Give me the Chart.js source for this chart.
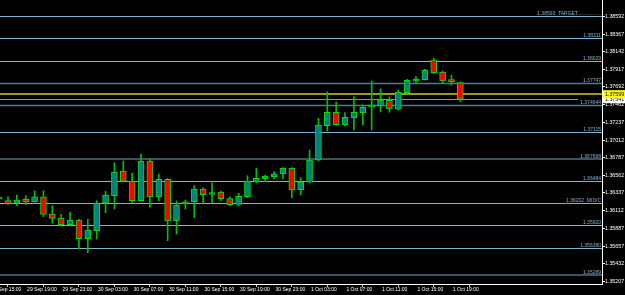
<!DOCTYPE html>
<html><head><meta charset="utf-8">
<script src="https://cdn.jsdelivr.net/npm/chart.js@4.4.1/dist/chart.umd.min.js"></script>
<style>
html,body{margin:0;padding:0;background:#000;overflow:hidden;}
#wrap{position:relative;width:625px;height:295px;background:#000;}
</style></head><body>
<div id="wrap"><canvas id="c"></canvas></div>
<script>
// ---- DATA ----
const candleTimes = [
 "29 Sep 16:00","29 Sep 17:00","29 Sep 18:00","29 Sep 19:00","29 Sep 20:00","29 Sep 21:00","29 Sep 22:00","29 Sep 23:00",
 "30 Sep 00:00","30 Sep 01:00","30 Sep 02:00","30 Sep 03:00","30 Sep 04:00","30 Sep 05:00","30 Sep 06:00","30 Sep 07:00",
 "30 Sep 08:00","30 Sep 09:00","30 Sep 10:00","30 Sep 11:00","30 Sep 12:00","30 Sep 13:00","30 Sep 14:00","30 Sep 15:00",
 "30 Sep 16:00","30 Sep 17:00","30 Sep 18:00","30 Sep 19:00","30 Sep 20:00","30 Sep 21:00","30 Sep 22:00","30 Sep 23:00",
 "1 Oct 00:00","1 Oct 01:00","1 Oct 02:00","1 Oct 03:00","1 Oct 04:00","1 Oct 05:00","1 Oct 06:00","1 Oct 07:00",
 "1 Oct 08:00","1 Oct 09:00","1 Oct 10:00","1 Oct 11:00","1 Oct 12:00","1 Oct 13:00","1 Oct 14:00","1 Oct 15:00",
 "1 Oct 16:00","1 Oct 17:00","1 Oct 18:00","1 Oct 19:00","1 Oct 20:00"
];
const opens = [1.36258,1.36237,1.36204,1.36255,1.36220,1.36285,1.36067,1.36016,1.35930,1.35990,1.35751,1.35853,1.36204,1.36301,1.36616,1.36484,1.36237,1.36744,1.36285,1.36510,1.35981,1.36195,1.36224,1.36387,1.36319,1.36348,1.36263,1.36191,1.36288,1.36475,1.36518,1.36544,1.36582,1.36651,1.36378,1.36475,1.36757,1.37196,1.37368,1.37209,1.37299,1.37363,1.37437,1.37448,1.37521,1.37406,1.37618,1.37764,1.37784,1.38036,1.37883,1.37764,1.37746];
const highs = [1.36285,1.36288,1.36310,1.36301,1.36361,1.36365,1.36173,1.36063,1.36092,1.36003,1.35999,1.36237,1.36357,1.36722,1.36744,1.36587,1.36834,1.36766,1.36578,1.36520,1.36233,1.36246,1.36429,1.36403,1.36466,1.36361,1.36288,1.36332,1.36556,1.36651,1.36565,1.36608,1.36659,1.36659,1.36530,1.36885,1.37291,1.37627,1.37499,1.37363,1.37567,1.37461,1.37768,1.37666,1.37563,1.37653,1.37789,1.37823,1.37917,1.38058,1.37895,1.37844,1.37755];
const lows = [1.36246,1.36191,1.36169,1.36187,1.36217,1.36033,1.35948,1.35913,1.35922,1.35620,1.35572,1.35747,1.36083,1.36131,1.36475,1.36217,1.36233,1.36153,1.36237,1.35725,1.35811,1.36131,1.36020,1.36195,1.36204,1.36237,1.36173,1.36169,1.36275,1.36466,1.36479,1.36514,1.36514,1.36275,1.36310,1.36463,1.36744,1.37128,1.37199,1.37192,1.37141,1.37205,1.37141,1.37372,1.37368,1.37397,1.37610,1.37730,1.37781,1.37861,1.37746,1.37716,1.37503];
const closes = [1.36260,1.36199,1.36246,1.36223,1.36285,1.36063,1.36012,1.35930,1.35990,1.35751,1.35862,1.36204,1.36310,1.36603,1.36488,1.36237,1.36744,1.36285,1.36510,1.35977,1.36182,1.36224,1.36387,1.36314,1.36316,1.36263,1.36186,1.36293,1.36488,1.36523,1.36553,1.36582,1.36651,1.36374,1.36475,1.36757,1.37205,1.37368,1.37209,1.37304,1.37368,1.37432,1.37442,1.37525,1.37410,1.37623,1.37777,1.37793,1.37908,1.37874,1.37768,1.37760,1.37534];

const xTickLabels = ["29 Sep 15:00","29 Sep 19:00","29 Sep 23:00","30 Sep 03:00","30 Sep 07:00","30 Sep 11:00","30 Sep 15:00","30 Sep 19:00","30 Sep 23:00","1 Oct 03:00","1 Oct 07:00","1 Oct 11:00","1 Oct 15:00","1 Oct 19:00"];
const yTickValues = [1.38592,1.38367,1.38142,1.37917,1.37692,1.37462,1.37237,1.37012,1.36787,1.36562,1.36337,1.36112,1.35887,1.35657,1.35432,1.35207];
const yTickLabels = ["1.38592","1.38367","1.38142","1.37917","1.37692","1.37462","1.37237","1.37012","1.36787","1.36562","1.36337","1.36112","1.35887","1.35657","1.35432","1.35207"];

const levelValues = [1.38593,1.38311,1.38029,1.37747,1.374644,1.37115,1.367668,1.36484,1.36202,1.35920,1.356380,1.35289];
const levelLabels = ["1.38593  TARGET.................","1.38311","1.38029","1.37747","1.374644","1.37115","1.367668","1.36484","1.36202  MID/C","1.35920","1.356380","1.35289"];
const levelKinds = ["light","light","light","mid","mid","light","dark","light","light","light","light","dark"];

const askPrice = 1.37599, askLabel = "1.37599";
const bidPrice = 1.37541, bidLabel = "1.37541";

// ---- STYLE ----
const FONT = '"Liberation Sans",Arial,sans-serif';
const kindStyle = {light:{c:'#7fb3d0',w:1}, mid:{c:'#55788a',w:1.5}, dark:{c:'#3c525c',w:2}};
const BULL = '#008080', BEAR = '#ff0000', EDGE = '#00e000', WICK = '#00c000';

// x tick indices from candle timeline
const xTickIdx = xTickLabels.map((l,k)=>{
  let i = candleTimes.indexOf(l);
  if (i < 0) i = candleTimes.indexOf(xTickLabels[k+1]) - 4;
  return i;
});

const wickData = candleTimes.map((t,i)=>({x:i, y:[lows[i], highs[i]]}));
const bodyData = candleTimes.map((t,i)=>({x:i, y:[Math.min(opens[i],closes[i]), Math.max(opens[i],closes[i])]}));
const bodyColors = candleTimes.map((t,i)=> closes[i] >= opens[i] ? BULL : BEAR);

const levelsPlugin = {
  id:'levels',
  beforeDatasetsDraw(chart){
    const {ctx, chartArea:a, scales:{y}} = chart;
    ctx.save();
    ctx.beginPath(); ctx.rect(a.left, a.top, a.right-a.left, a.bottom-a.top); ctx.clip();
    levelValues.forEach((v,i)=>{
      const st = kindStyle[levelKinds[i]];
      const py = y.getPixelForValue(v);
      ctx.strokeStyle = st.c; ctx.lineWidth = st.w;
      const yy = st.w % 2 ? Math.round(py)+0.5 : Math.round(py);
      ctx.beginPath(); ctx.moveTo(a.left, yy); ctx.lineTo(a.right, yy); ctx.stroke();
      ctx.fillStyle = '#7fb3d0';
      ctx.font = '5px ' + FONT;
      ctx.textAlign = 'right'; ctx.textBaseline = 'alphabetic';
      ctx.fillText(levelLabels[i], a.right - 1, yy - 1.5);
    });
    // ask line
    let py = Math.round(y.getPixelForValue(askPrice));
    ctx.strokeStyle = '#9a9a18'; ctx.lineWidth = 2;
    ctx.beginPath(); ctx.moveTo(a.left, py); ctx.lineTo(a.right, py); ctx.stroke();
    // bid line
    py = Math.round(y.getPixelForValue(bidPrice)) + 0.5;
    ctx.strokeStyle = '#8e9494'; ctx.lineWidth = 1;
    ctx.beginPath(); ctx.moveTo(a.left, py); ctx.lineTo(a.right - 24, py); ctx.stroke();
    ctx.restore();
  },
  afterDraw(chart){
    const {ctx, chartArea:a, scales:{y}} = chart;
    ctx.save();
    ctx.font = '5.3px ' + FONT;
    ctx.textAlign = 'left'; ctx.textBaseline = 'middle';
    let py = y.getPixelForValue(bidPrice);
    ctx.fillStyle = '#ffffff'; ctx.fillRect(a.right + 1, py - 3.5, 30, 8);
    ctx.fillStyle = '#000'; ctx.fillText(bidLabel, a.right + 3, py + 0.5);
    py = y.getPixelForValue(askPrice);
    ctx.fillStyle = '#ffff00'; ctx.fillRect(a.right + 1, py - 4, 30, 8);
    ctx.fillStyle = '#000'; ctx.fillText(askLabel, a.right + 3, py);
    ctx.restore();
  }
};

new Chart(document.getElementById('c'), {
  type:'bar',
  data:{
    datasets:[
      {data:wickData, backgroundColor:WICK, barThickness:1, grouped:false, borderWidth:0, order:2},
      {data:bodyData, backgroundColor:bodyColors, borderColor:EDGE, borderWidth:1, borderSkipped:false, barThickness:6, minBarLength:2, grouped:false, order:1}
    ]
  },
  options:{
    responsive:true, maintainAspectRatio:false, animation:false, events:[],
    layout:{padding:0},
    plugins:{legend:{display:false}, tooltip:{enabled:false}},
    scales:{
      x:{
        type:'linear', offset:false, min:0.1, max:67.97,
        afterBuildTicks(s){ s.ticks = xTickIdx.map(v=>({value:v})); },
        afterFit(s){ s.height = 11; s.paddingLeft = 0; s.paddingRight = 0; },
        grid:{display:true, drawOnChartArea:false, drawTicks:true, tickLength:3, color:'#cfcfcf'},
        border:{display:true, color:'#ffffff', width:1},
        ticks:{autoSkip:false, maxRotation:0, minRotation:0, align:'start', padding:0, color:'#ffffff',
          font:{family:FONT, size:5}, callback:(v,i)=>' ' + xTickLabels[i]}
      },
      y:{
        type:'linear', position:'right', min:1.35172, max:1.38803,
        afterBuildTicks(s){ s.ticks = yTickValues.map(v=>({value:v})); },
        afterFit(s){ s.width = 23; s.paddingTop = 0; s.paddingBottom = 0; },
        grid:{display:true, drawOnChartArea:false, drawTicks:true, tickLength:3, color:'#ffffff'},
        border:{display:true, color:'#ffffff', width:1},
        ticks:{autoSkip:false, padding:0, color:'#ffffff', font:{family:FONT, size:5.3}, callback:(v,i)=>yTickLabels[i]}
      }
    }
  },
  plugins:[levelsPlugin]
});
</script>
</body></html>
